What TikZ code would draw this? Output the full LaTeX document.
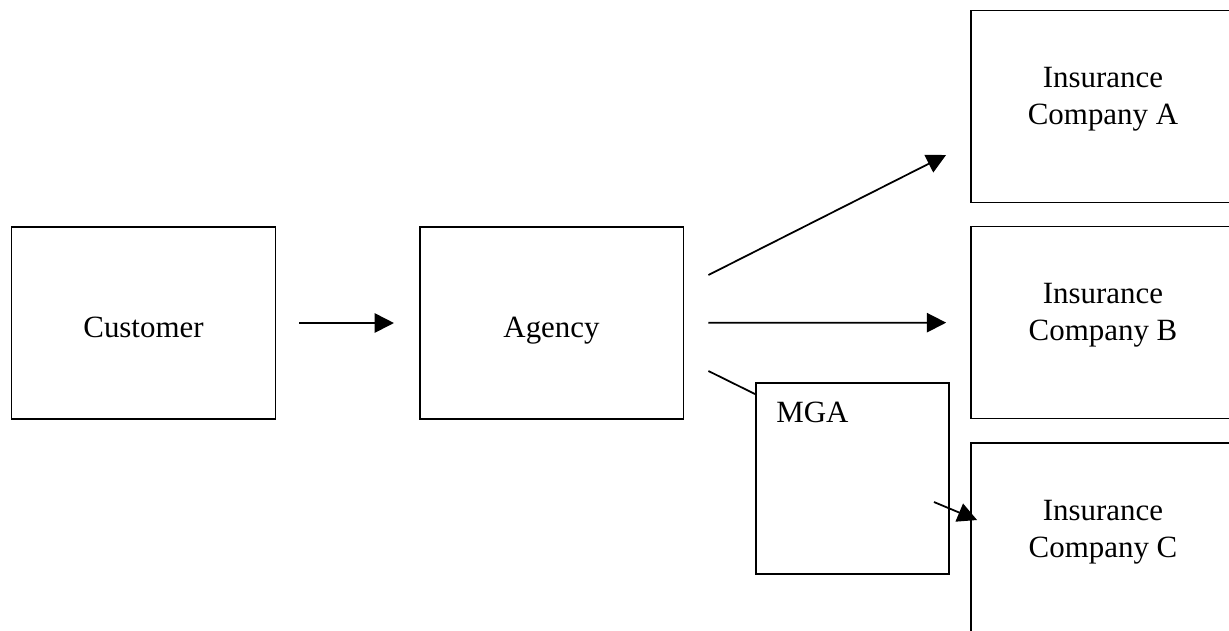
\documentclass[tikz,border=0pt]{standalone}
\usepackage{fontspec}
\setmainfont{Liberation Serif}
\usetikzlibrary{calc}
\usetikzlibrary{arrows.meta}

\begin{document}
\begin{tikzpicture}[x=0.02cm,y=-0.02cm]
      \tikzset{mybox/.style={draw=black,line width=1.1pt,minimum width=5.28cm,minimum height=3.84cm},
               mytext/.style={font=\fontsize{17.6pt}{21pt}\selectfont,align=center},
               myarrow/.style={line width=1pt,-{Triangle[length=11pt,width=11pt]}}}
      \useasboundingbox (0,0) rectangle (1229,630);
      \clip (0,0) rectangle (1229,630);

\node[mybox,mytext,text height=17pt,text depth=0pt] (cust) at (143.5,323) {Customer};
\node[mybox,mytext,text height=17pt,text depth=0pt] (agency) at (551.5,323) {Agency};
\foreach \n/\y/\l in {insA/106.5/A,insB/322.5/B,insC/539/C}
{
  \node[mybox] (\n) at (1103,\y) {};
  \node[mytext] (\n text) at ([yshift=4pt]\n.center) {Insurance\\Company \l};
}
\node[mybox,minimum width=3.86cm,minimum height=3.82cm] (mga) at (852.5,478.5) {};
\node[mytext,anchor=base west,inner sep=0pt] (mgatext) at ($(mga.north west)+(21,40)$) {MGA};

\draw[myarrow,shorten <=13pt,shorten >=14pt] (cust) -- (agency);
\draw[myarrow,shorten <=13.6pt,shorten >=13.6pt] (agency) -- (insB);
\draw[myarrow] ($(agency.east)+(24,-48)$) -- ($(insA.west)+(-24,48.5)$);
\draw[line width=1pt] ($(agency.east)+(24,48)$) -- ($(mga.north west)+(0,12)$);
\draw[myarrow] ($(mga.east)+(-16,23.5)$) -- ($(insC.west)+(7,-19)$);
    \end{tikzpicture}
\end{document}
